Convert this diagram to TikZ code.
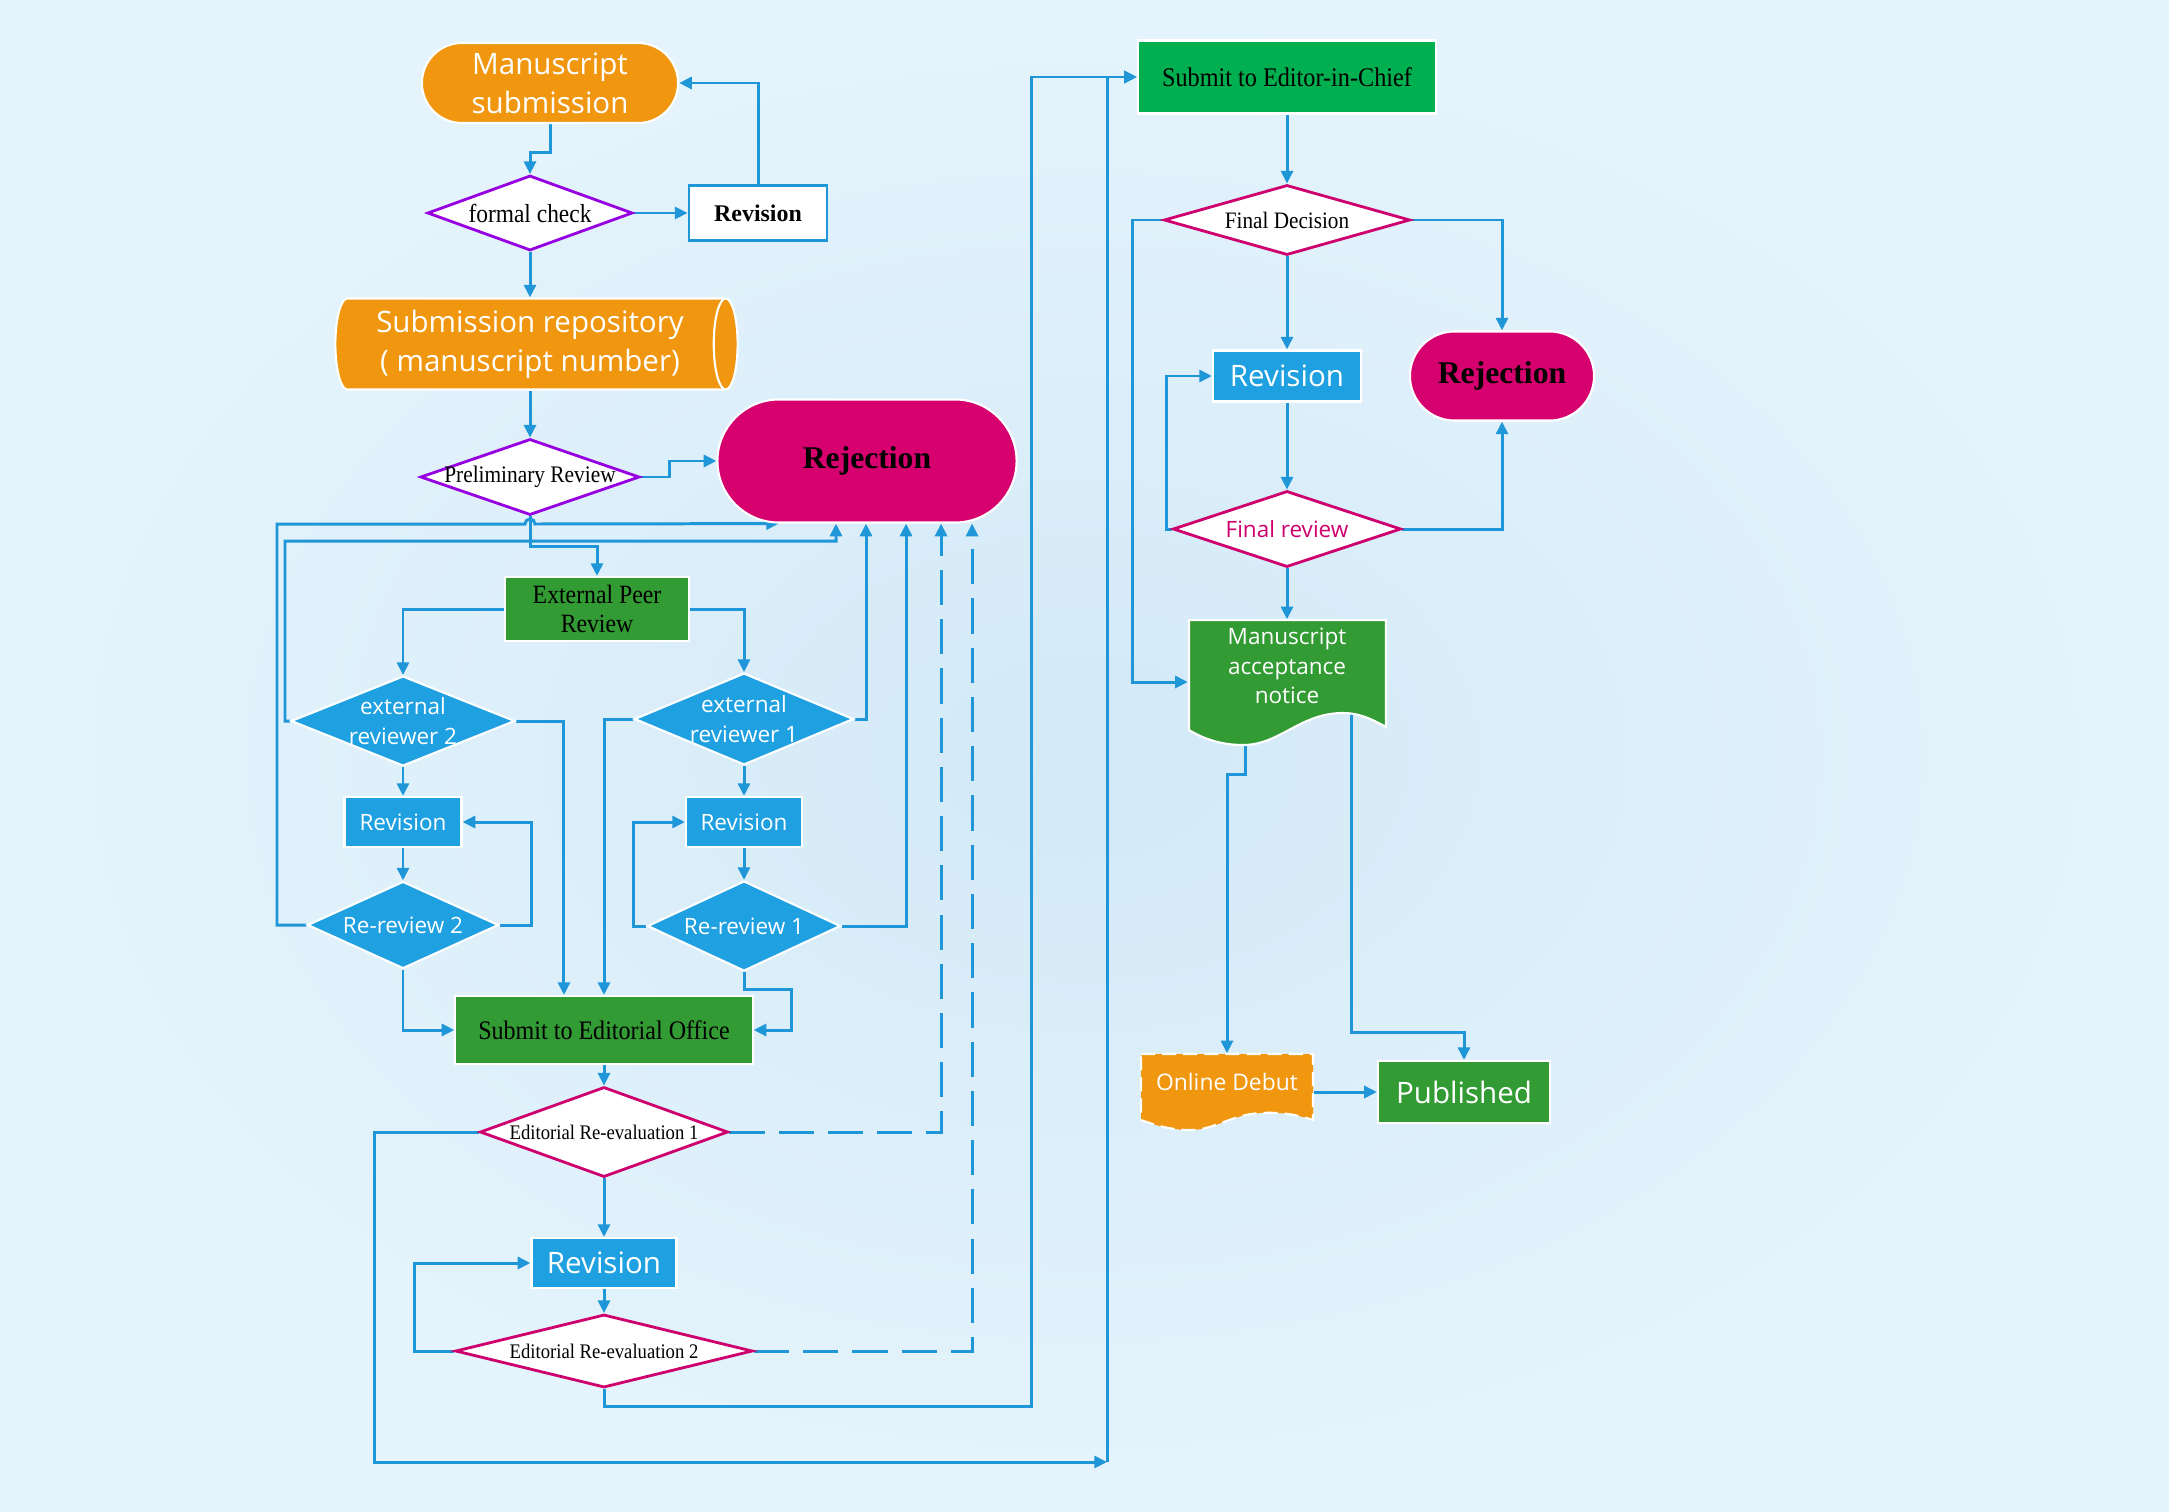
\documentclass[tikz,border=0pt]{standalone}
\usepackage{fontspec}
\setmainfont{Liberation Serif}
\newfontfamily\narrowserif[FakeStretch=0.9]{Liberation Serif}
\newfontfamily\yahei{Open Sans}
\usetikzlibrary{arrows.meta,shapes.geometric,shapes.misc,backgrounds}

\definecolor{bgin}{RGB}{211,233,247}
\definecolor{bgout}{RGB}{229,244,252}
\definecolor{flowline}{RGB}{30,150,215}
\definecolor{orangebox}{RGB}{240,150,15}
\definecolor{rejectred}{RGB}{214,0,110}
\definecolor{bluebox}{RGB}{30,160,225}
\definecolor{greenbox}{RGB}{51,155,51}
\definecolor{brightgreen}{RGB}{0,176,80}
\definecolor{checkpurple}{RGB}{150,0,225}
\definecolor{evalpink}{RGB}{205,0,110}

\begin{document}
\begin{tikzpicture}[x=0.01cm, y=-0.01cm]
\tikzset{
  bigsans/.style={font=\yahei\fontsize{8.4}{11}\selectfont},
  smallsans/.style={font=\yahei\fontsize{6.4}{8.3}\selectfont},
  term/.style={rounded rectangle, fill=orangebox, draw=white, line width=0.6pt,
    text=white, align=center, inner sep=0pt, bigsans},
  reject/.style={rounded rectangle, fill=rejectred, draw=white, line width=0.6pt,
    inner sep=0pt, font=\bfseries\fontsize{9}{10}\selectfont},
  check/.style={diamond, draw=checkpurple, fill=white, line width=0.8pt, inner sep=0pt},
  evaldiam/.style={diamond, draw=evalpink, fill=white, line width=0.8pt, inner sep=0pt},
  bluediam/.style={diamond, fill=bluebox, draw=white, line width=0.6pt, inner sep=0pt,
    text=white, align=center, smallsans},
  bluerect/.style={rectangle, fill=bluebox, draw=white, line width=0.6pt, inner sep=0pt,
    text=white, smallsans},
  greenrect/.style={rectangle, fill=greenbox, draw=white, line width=0.6pt, inner sep=0pt,
    align=center},
  plainbox/.style={rectangle, fill=white, draw=flowline, line width=0.8pt, inner sep=0pt,
    font=\bfseries\fontsize{6.8}{8}\selectfont},
  store/.style={cylinder, shape border rotate=0, aspect=0.35, cylinder uses custom fill,
    cylinder body fill=orangebox, cylinder end fill=orangebox, draw=white, line width=0.6pt,
    text=white, align=center, inner sep=0pt, bigsans},
  link/.style={draw=flowline, line width=0.85pt, -{Triangle[length=3.6pt,width=3.4pt]}},
  dlink/.style={link, dash pattern=on 10pt off 4pt},
}

% ---- background ----
\useasboundingbox (0,0) rectangle (2169,1512);
\begin{scope}[on background layer]
  \shade[inner color=bgin, outer color=bgout] (0,0) rectangle (2169,1512);
\end{scope}

% =====================================================================
% Submission and preliminary review
% =====================================================================
\node[term, minimum width=2.56cm, minimum height=0.80cm] (ms) at (550,83) {Manuscript\\submission};
\node[check, minimum width=2.05cm, minimum height=0.75cm, aspect=2.73,
      font=\narrowserif\fontsize{7.4}{8}\selectfont] (fcheck) at (530,213) {formal check};
\node[plainbox, minimum width=1.38cm, minimum height=0.55cm] (rev0) at (758,213) {Revision};
\node[store, minimum height=4.02cm, minimum width=0.91cm] (repo) at (530,344)
  {Submission repository\\( manuscript number)};
\node[check, minimum width=2.19cm, minimum height=0.76cm, aspect=2.88, inner xsep=-0.3cm,
      font=\narrowserif\fontsize{6.75}{7}\selectfont] (prelim) at (530,477) {Preliminary Review};
\node[reject, minimum width=2.99cm, minimum height=1.23cm] (rej1) at (867,461) {Rejection};

% =====================================================================
% External peer review
% =====================================================================
\node[greenrect, minimum width=1.84cm, minimum height=0.64cm,
      font=\narrowserif\fontsize{7.5}{8.3}\selectfont] (epr) at (597,609) {External Peer\\Review};
\node[bluediam, minimum width=2.12cm, minimum height=0.85cm, aspect=2.49] (ext2) at (403,721) {external\\reviewer 2};
\node[bluediam, minimum width=2.15cm, minimum height=0.90cm, aspect=2.39] (ext1) at (744,719) {external\\reviewer 1};
\node[bluerect, minimum width=1.17cm, minimum height=0.50cm] (rev2) at (403,822) {Revision};
\node[bluediam, minimum width=1.91cm, minimum height=0.87cm, aspect=2.2] (rr2) at (403,925) {Re-review 2};
\node[bluerect, minimum width=1.16cm, minimum height=0.50cm] (rev1) at (744,822) {Revision};
\node[bluediam, minimum width=1.93cm, minimum height=0.90cm, aspect=2.14] (rr1) at (744,926) {Re-review 1};

% =====================================================================
% Editorial office
% =====================================================================
\node[greenrect, minimum width=2.97cm, minimum height=0.68cm,
      font=\narrowserif\fontsize{7.6}{8}\selectfont] (seo) at (604,1030) {Submit to Editorial Office};
\node[evaldiam, minimum width=2.48cm, minimum height=0.90cm, aspect=2.76,
      font=\narrowserif\fontsize{5.9}{7}\selectfont] (ere1) at (604,1132) {Editorial Re-evaluation 1};
\node[bluerect, bigsans, minimum width=1.45cm, minimum height=0.50cm] (rev3) at (604,1263) {Revision};
\node[evaldiam, minimum width=2.97cm, minimum height=0.73cm, aspect=4.07,
      font=\narrowserif\fontsize{5.9}{7}\selectfont] (ere2) at (604,1351) {Editorial Re-evaluation 2};

% =====================================================================
% Editor-in-Chief and publication
% =====================================================================
\node[greenrect, fill=brightgreen, minimum width=2.98cm, minimum height=0.73cm,
      font=\narrowserif\fontsize{7.65}{8}\selectfont] (seic) at (1287,77) {Submit to Editor-in-Chief};
\node[evaldiam, minimum width=2.46cm, minimum height=0.70cm, aspect=3.51,
      font=\narrowserif\fontsize{6.7}{7}\selectfont] (fdec) at (1287,220) {Final Decision};
\node[bluerect, bigsans, minimum width=1.48cm, minimum height=0.51cm] (rev4) at (1287,376) {Revision};
\node[reject, minimum width=1.84cm, minimum height=0.89cm] (rej2) at (1502,376) {Rejection};
\node[evaldiam, text=evalpink, smallsans, minimum width=2.28cm, minimum height=0.76cm,
      aspect=3.0] (frev) at (1287,529) {Final review};

% document shapes with wavy bottom
\filldraw[fill=greenbox, draw=white, line width=0.6pt]
  (1189,620) -- (1386,620) -- (1386,727)
  .. controls (1370,718) and (1358,713) .. (1343,713)
  .. controls (1300,713) and (1280,745) .. (1243,745)
  .. controls (1220,745) and (1202,738) .. (1189,730) -- cycle;
\node[text=white, align=center, smallsans, inner sep=0pt,
      minimum width=1.97cm, minimum height=0.92cm] (accept) at (1287,666) {Manuscript\\acceptance\\notice};
\filldraw[fill=orangebox, draw=white, line width=0.6pt, dash pattern=on 4pt off 2pt]
  (1141,1054) -- (1313,1054) -- (1313,1120)
  .. controls (1295,1114) and (1280,1112) .. (1260,1113)
  .. controls (1230,1115) and (1215,1130) .. (1190,1130)
  .. controls (1170,1130) and (1155,1125) .. (1141,1120) -- cycle;
\node[text=white, font=\yahei\fontsize{6.5}{8}\selectfont, inner sep=0pt,
      minimum width=1.72cm, minimum height=0.56cm] (debut) at (1227,1082) {Online Debut};
\node[greenrect, text=white, bigsans, minimum width=1.72cm, minimum height=0.62cm] (pub) at (1464,1092) {Published};

% =====================================================================
% Connectors
% =====================================================================
\begin{scope}[on background layer]
  \coordinate (jr) at (1107,1462);
  % top part
  \draw[link] (ms.south) -- ++(0,28) -| (fcheck.north);
  \draw[link] (fcheck.east) -- (rev0.west);
  \draw[link] (rev0.north) |- (ms.east);
  \draw[link] (fcheck.south) -- (fcheck.south |- repo.north);
  \draw[link] (prelim.north |- repo.south) -- (prelim.north);
  \draw[link] (prelim.east) -- ++(29,0) |- (rej1.west);
  \draw[link] (prelim.south) -- ++(0,30) -| (epr.north);
  % loops back to rejection
  \draw[link] (rr2.west) -| (277,524) -- (525,524)
    arc[start angle=180, end angle=360, radius=5] -- ([xshift=-0.88cm]rej1.south);
  \draw[link] (ext2.west) -- ++(-5,0) |- (836,541) -- ([xshift=-0.31cm]rej1.south);
  \draw[link] (ext1.east) -| ([xshift=-0.01cm]rej1.south);
  \draw[link] (rr1.east) -| ([xshift=0.39cm]rej1.south);
  \draw[dlink] (ere1.east) -| ([xshift=0.74cm]rej1.south);
  \draw[dlink] (ere2.east) -| ([xshift=1.05cm]rej1.south);
  % peer review branches
  \draw[link] (epr.west) -| (ext2.north);
  \draw[link] (epr.east) -| (ext1.north);
  \draw[link] (ext2.south) -- (rev2.north);
  \draw[link] (rev2.south) -- (rr2.north);
  \draw[link] (rr2.east) -- ++(32,0) |- (rev2.east);
  \draw[link] (rr2.south) |- (seo.west);
  \draw[link] (ext2.east) -| ([xshift=-0.4cm]seo.north);
  \draw[link] (ext1.west) -| (seo.north);
  \draw[link] (ext1.south) -- (rev1.north);
  \draw[link] (rev1.south) -- (rr1.north);
  \draw[link] (rr1.west) -- ++(-13,0) |- (rev1.west);
  \draw[link] (rr1.south) -- ++(0,17) -- ++(47,0) |- (seo.east);
  % editorial office
  \draw[link] (seo.south) -- (ere1.north);
  \draw[link] (ere1.south) -- (rev3.north);
  \draw[link] (rev3.south) -- (ere2.north);
  \draw[link] (ere2.west) -- ++(-40,0) |- (rev3.west);
  \draw[link] (ere1.west) -- ++(-104,0) |- (jr);
  \draw[link] (jr) |- (seic.west);
  \draw[link] (ere2.south) -- ++(0,18) -- ++(427,0) |- (seic.west);
  % editor-in-chief
  \draw[link] (seic.south) -- (fdec.north);
  \draw[link] (fdec.east) -| (rej2.north);
  \draw[link] (fdec.west) -- ++(-30,0) |- ([yshift=-0.16cm]accept.west);
  \draw[link] (fdec.south) -- (rev4.north);
  \draw[link] (rev4.south) -- (frev.north);
  \draw[link] (frev.west) -- ++(-5,0) |- (rev4.west);
  \draw[link] (frev.east) -| (rej2.south);
  \draw[link] (frev.south) -- (accept.north);
  \draw[link] ([xshift=-0.41cm]accept.south) -- ++(0,62) -| (debut.north);
  \draw[link] ([xshift=0.64cm]accept.south) -- ++(0,320) -| (pub.north);
  \draw[link] (debut.east |- pub.west) -- (pub.west);
\end{scope}

\end{tikzpicture}
\end{document}
